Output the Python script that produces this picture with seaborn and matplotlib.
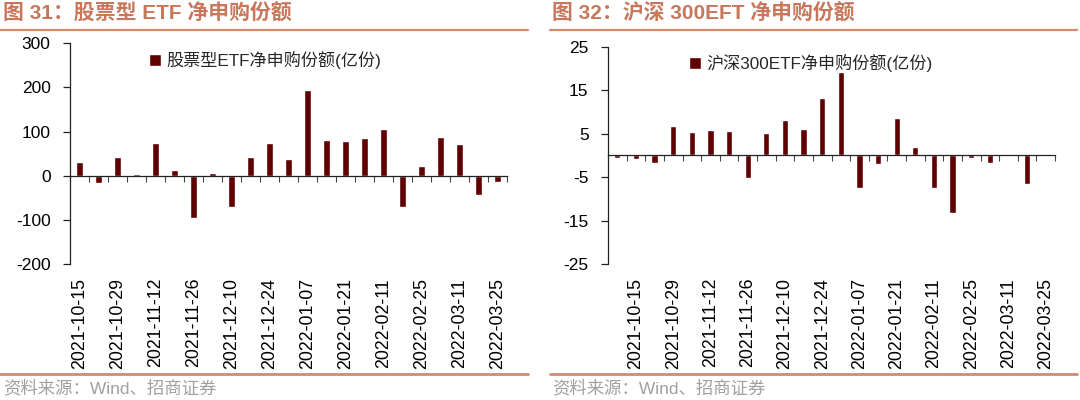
import numpy as np
import pandas as pd
import matplotlib
matplotlib.use("Agg")
import matplotlib.pyplot as plt
from matplotlib.lines import Line2D
import seaborn as sns

# ---------------- data ----------------
dates_etf = ["2021-10-15", "2021-10-22", "2021-10-29", "2021-11-05", "2021-11-12",
             "2021-11-19", "2021-11-26", "2021-12-03", "2021-12-10", "2021-12-17",
             "2021-12-24", "2021-12-31", "2022-01-07", "2022-01-14", "2022-01-21",
             "2022-01-28", "2022-02-11", "2022-02-18", "2022-02-25", "2022-03-04",
             "2022-03-11", "2022-03-18", "2022-03-25"]
etf_values = [30, -17, 42, 5, 74, 14, -95, 7, -70, 42, 74, 38, 194, 82, 79,
              86, 106, -71, 21, 88, 71, -43, -14]

dates_hs300 = ["2021-10-08", "2021-10-15", "2021-10-22", "2021-10-29", "2021-11-05",
               "2021-11-12", "2021-11-19", "2021-11-26", "2021-12-03", "2021-12-10",
               "2021-12-17", "2021-12-24", "2021-12-31", "2022-01-07", "2022-01-14",
               "2022-01-21", "2022-01-28", "2022-02-11", "2022-02-18", "2022-02-25",
               "2022-03-04", "2022-03-11", "2022-03-18", "2022-03-25"]
hs300_values = [-0.6, -0.8, -1.7, 6.8, 5.3, 5.8, 5.5, -5.2, 5.1, 8.1, 6.1, 13.2,
                19.2, -7.4, -2.0, 8.6, 1.9, -7.4, -13.2, -0.6, -1.7, 0.05, -6.7, -0.2]

labels_etf = dates_etf[0::2]
labels_hs300 = dates_hs300[1::2]

yticks_etf = [-200, -100, 0, 100, 200, 300]
yticks_hs300 = [-25, -15, -5, 5, 15, 25]

title_etf = "图 31：股票型 ETF 净申购份额"
title_hs300 = "图 32：沪深 300EFT 净申购份额"
legend_etf = "股票型ETF净申购份额(亿份)"
legend_hs300 = "沪深300ETF净申购份额(亿份)"
source_text = "资料来源：Wind、招商证券"

# ---------------- style ----------------
bar_color = "#600000"
accent = "#C8775A"
line_color = "#D58A6E"

sns.set_style("white")
plt.rcParams["font.family"] = ["Liberation Sans", "Noto Sans CJK SC", "DejaVu Sans"]
plt.rcParams["axes.unicode_minus"] = False

W, H = 1080, 400
fig = plt.figure(figsize=(10.8, 4.0), dpi=100)
ax1 = fig.add_axes([70 / W, 136 / H, 437 / W, 220.7 / H])
ax2 = fig.add_axes([608 / W, 136 / H, 447 / W, 217.3 / H])


def draw(ax, dates, values, labels, yticks, legend_text):
    df = pd.DataFrame({"date": dates, "value": values})
    sns.barplot(data=df, x="date", y="value", color=bar_color, saturation=1,
                width=0.33, ax=ax, label=legend_text)
    n = len(dates)
    ax.set_xlim(-0.5, n - 0.5)
    ax.set_ylim(yticks[0], yticks[-1])
    ax.set_yticks(yticks)
    ax.set_xlabel("")
    ax.set_ylabel("")
    for s in ["top", "right"]:
        ax.spines[s].set_visible(False)
    ax.spines["bottom"].set_position(("data", 0))
    for s in ["bottom", "left"]:
        ax.spines[s].set_color("#222222")
        ax.spines[s].set_linewidth(0.9)
    ax.set_xticks(np.arange(n + 1) - 0.5)
    ax.set_xticklabels([])
    ax.tick_params(axis="x", direction="out", length=4, width=0.8,
                   color="#444444", bottom=True)
    ax.tick_params(axis="y", direction="out", length=5, width=0.9,
                   color="#222222", left=True, labelsize=12.5, pad=9,
                   labelcolor="black")
    sec = ax.secondary_xaxis("bottom")
    idx = [dates.index(l) for l in labels]
    sec.set_xticks(idx)
    sec.set_xticklabels(labels, rotation=90)
    sec.tick_params(length=0, labelsize=12.8, pad=10, labelcolor="black")
    sec.spines["bottom"].set_visible(False)
    ax.legend(loc="center left", bbox_to_anchor=(0.165, 0.925), frameon=False,
              fontsize=12.3, handlelength=0.7, handleheight=0.7,
              handletextpad=0.35, borderaxespad=0)


draw(ax1, dates_etf, etf_values, labels_etf, yticks_etf, legend_etf)
draw(ax2, dates_hs300, hs300_values, labels_hs300, yticks_hs300, legend_hs300)

# titles
fig.text(3 / W, 1 - 14 / H, title_etf, fontsize=15, fontweight="bold",
         color=accent, ha="left", va="center")
fig.text(552 / W, 1 - 14 / H, title_hs300, fontsize=15, fontweight="bold",
         color=accent, ha="left", va="center")

# separator lines
for (x0, x1) in [(0, 528), (550, 1077)]:
    fig.add_artist(Line2D([x0 / W, x1 / W], [1 - 29.5 / H, 1 - 29.5 / H],
                          transform=fig.transFigure, color=line_color, lw=1.6))
    fig.add_artist(Line2D([x0 / W, x1 / W], [1 - 374 / H, 1 - 374 / H],
                          transform=fig.transFigure, color=line_color, lw=2.0))

# sources
fig.text(3 / W, 1 - 388 / H, source_text, fontsize=12.5, color="#A0A0A0",
         ha="left", va="center")
fig.text(552 / W, 1 - 388 / H, source_text, fontsize=12.5, color="#A0A0A0",
         ha="left", va="center")

fig.savefig("out.png", dpi=100)
